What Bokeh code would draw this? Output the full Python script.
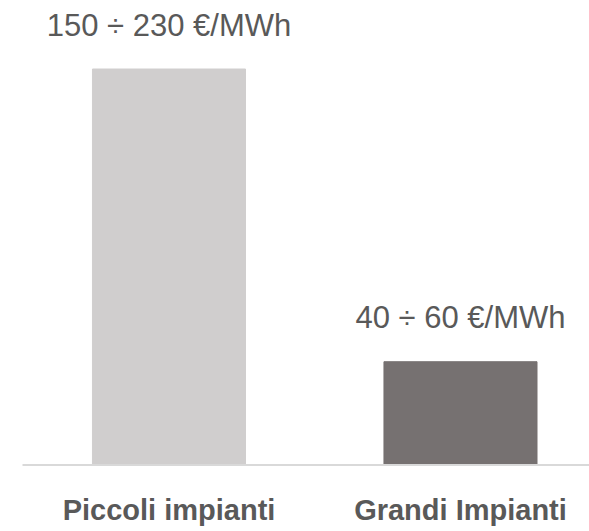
from bokeh.plotting import figure
from bokeh.models import Range1d, ColumnDataSource
from bokeh.core.properties import value
from bokeh.embed import file_html
from bokeh.resources import INLINE

categories = ["Piccoli impianti", "Grandi Impianti"]
values = [230, 60]
labels = ["150 ÷ 230 €/MWh", "40 ÷ 60 €/MWh"]
colors = ["#d0cece", "#767171"]

FONT = "Liberation Sans"
TEXT_COLOR = "#595959"

xs = list(range(len(categories)))
src = ColumnDataSource(dict(x=xs, top=values, label=labels, cat=categories, color=colors,
                            zero=[0] * len(xs)))

p = figure(width=589, height=531, output_backend="svg", toolbar_location=None,
           x_range=Range1d(-0.578, 1.4426), y_range=Range1d(-38.6, 269.8),
           min_border=0)
p.axis.visible = False
p.grid.visible = False
p.outline_line_color = None
p.background_fill_color = "white"
p.border_fill_color = "white"

p.vbar(x="x", top="top", bottom=0, width=0.525, color="color", source=src)

# baseline
p.segment(x0=-0.5025, x1=1.45, y0=0, y1=0, line_color="#d9d9d9", line_width=2)

p.text(x="x", y="top", text="label", source=src, text_align="center",
       text_baseline="alphabetic", y_offset=-44, text_font=value(FONT),
       text_font_size="31px", text_color=TEXT_COLOR)

p.text(x="x", y="zero", text="cat", source=src, text_align="center",
       text_baseline="alphabetic", y_offset=45, text_font=value(FONT),
       text_font_size="29px", text_font_style="bold", text_color=TEXT_COLOR)

open("out.html", "w").write(file_html(p, INLINE))
